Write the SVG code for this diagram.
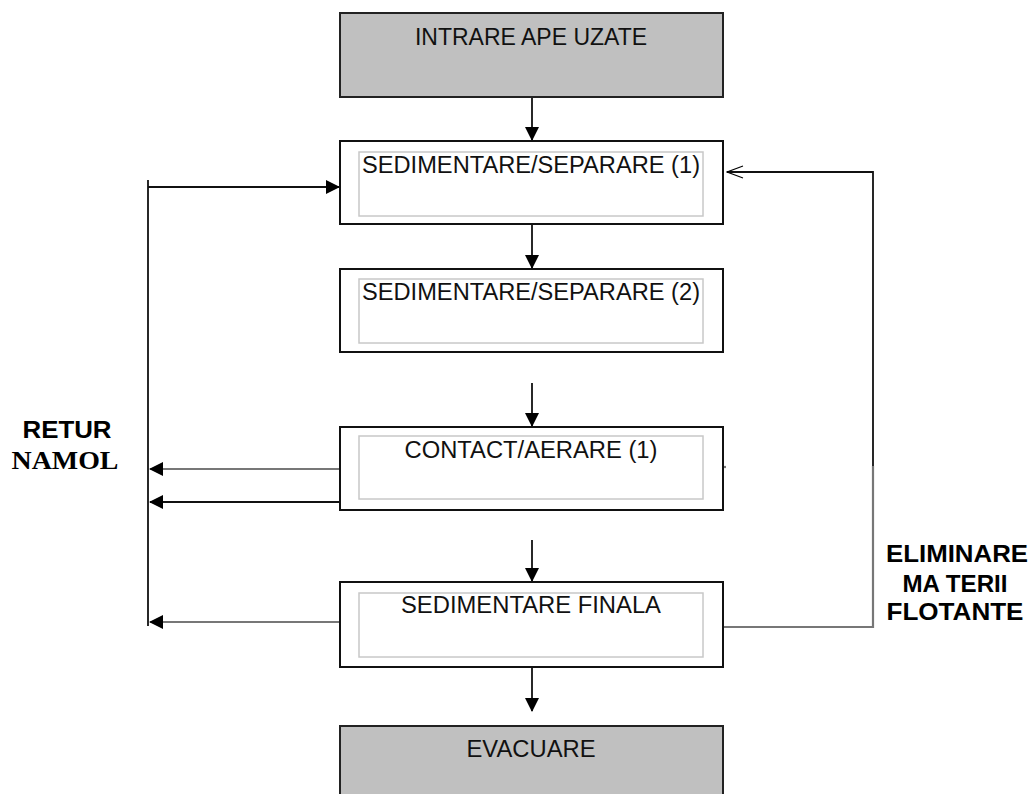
<svg xmlns="http://www.w3.org/2000/svg" width="1036" height="794" viewBox="0 0 1036 794">
<style>
.box{fill:#fff;stroke:#111;stroke-width:2}
.gbox{fill:#c0c0c0;stroke:#222;stroke-width:2}
.inner{fill:#fff;stroke:#c8c8c8;stroke-width:1.5}
.t{font-family:"Liberation Sans",Arial,sans-serif;font-size:23px;fill:#111;text-anchor:middle}
.lb{font-family:"Liberation Sans",Arial,sans-serif;font-size:24px;font-weight:bold;fill:#000;text-anchor:middle}
.ls{font-family:"Liberation Serif","Times New Roman",serif;font-size:26px;font-weight:bold;fill:#000;text-anchor:middle}
.c{fill:none;stroke:#111;stroke-width:1.8}
.cg{fill:none;stroke:#777;stroke-width:2.2}
</style>
<defs>
<marker id="ah" markerWidth="14" markerHeight="14" refX="13" refY="7" orient="auto" markerUnits="userSpaceOnUse">
<path d="M0,0 L14,7 L0,14 Z" fill="#000"/>
</marker>
<marker id="oa" markerWidth="18" markerHeight="14" refX="17" refY="7" orient="auto" markerUnits="userSpaceOnUse">
<path d="M1,1 L17,7 L1,13" fill="none" stroke="#000" stroke-width="1.2"/>
</marker>
</defs>
<rect width="1036" height="794" fill="#fff"/>
<g id="connectors">
<line class="c" x1="532" y1="97" x2="532" y2="140" marker-end="url(#ah)"/>
<line class="c" x1="532" y1="224" x2="532" y2="268" marker-end="url(#ah)"/>
<line class="c" x1="532" y1="383" x2="532" y2="426" marker-end="url(#ah)"/>
<line class="c" x1="532" y1="540" x2="532" y2="581" marker-end="url(#ah)"/>
<line class="c" x1="532" y1="667" x2="532" y2="711" marker-end="url(#ah)"/>
<line class="c" x1="148" y1="180" x2="148" y2="626"/>
<line class="c" x1="148" y1="187" x2="339" y2="187" marker-end="url(#ah)"/>
<line class="cg" x1="340" y1="469" x2="150" y2="469" marker-end="url(#ah)"/>
<line class="c" x1="340" y1="502" x2="150" y2="502" marker-end="url(#ah)"/>
<line class="cg" x1="340" y1="622" x2="150" y2="622" marker-end="url(#ah)"/>
<polyline class="c" points="873,467 873,172 727,172" marker-end="url(#oa)"/>
<polyline class="cg" points="723,627 873,627 873,466"/>
<line class="cg" x1="723" y1="467" x2="726" y2="467"/>
</g>
<g id="n-intrare">
<rect class="gbox" x="340" y="13" width="383" height="84"/>
<text class="t" x="531" y="45">INTRARE APE UZATE</text>
</g>
<g id="n-sed1">
<rect class="box" x="340" y="141" width="383" height="83"/>
<rect class="inner" x="359" y="152" width="344" height="64"/>
<text class="t" x="531" y="173" textLength="338" lengthAdjust="spacingAndGlyphs">SEDIMENTARE/SEPARARE (1)</text>
</g>
<g id="n-sed2">
<rect class="box" x="340" y="269" width="383" height="83"/>
<rect class="inner" x="359" y="279" width="344" height="64"/>
<text class="t" x="531" y="300" textLength="338" lengthAdjust="spacingAndGlyphs">SEDIMENTARE/SEPARARE (2)</text>
</g>
<g id="n-contact">
<rect class="box" x="340" y="427" width="383" height="83"/>
<rect class="inner" x="359" y="436" width="344" height="63"/>
<text class="t" x="531" y="458" textLength="253" lengthAdjust="spacingAndGlyphs">CONTACT/AERARE (1)</text>
</g>
<g id="n-sedfin">
<rect class="box" x="340" y="582" width="383" height="85"/>
<rect class="inner" x="359" y="593" width="344" height="64"/>
<text class="t" x="531" y="613" textLength="260" lengthAdjust="spacingAndGlyphs">SEDIMENTARE FINALA</text>
</g>
<g id="n-evacuare">
<rect class="gbox" x="340" y="726" width="383" height="80"/>
<text class="t" x="531" y="757" textLength="129" lengthAdjust="spacingAndGlyphs">EVACUARE</text>
</g>
<g id="label-retur">
<text class="lb" x="67" y="438" textLength="89" lengthAdjust="spacingAndGlyphs">RETUR</text>
<text class="ls" x="65" y="469" textLength="107" lengthAdjust="spacingAndGlyphs">NAMOL</text>
</g>
<g id="label-eliminare">
<text class="lb" x="957" y="562" textLength="142" lengthAdjust="spacingAndGlyphs">ELIMINARE</text>
<text class="lb" x="955" y="592" textLength="105" lengthAdjust="spacingAndGlyphs">MA TERII</text>
<text class="lb" x="955" y="620" textLength="137" lengthAdjust="spacingAndGlyphs">FLOTANTE</text>
</g>
</svg>
